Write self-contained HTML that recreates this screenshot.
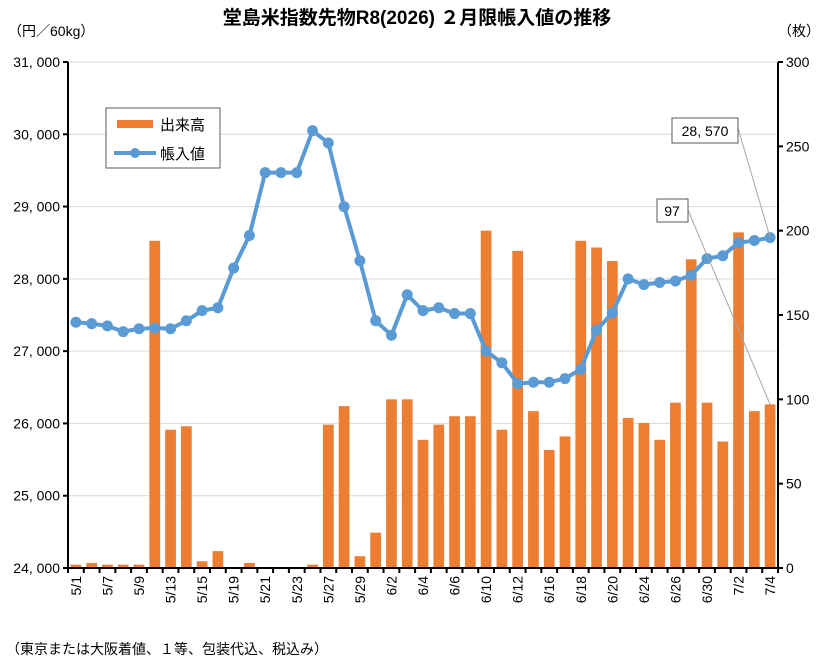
<!DOCTYPE html>
<html><head><meta charset="utf-8">
<style>
body{margin:0;background:#fff;}
svg{display:block;font-family:"Liberation Sans","Noto Sans CJK JP",sans-serif;}
</style></head>
<body>
<svg id="chart" width="835" height="665" viewBox="0 0 835 665" xmlns="http://www.w3.org/2000/svg">
<text x="417" y="24" text-anchor="middle" font-size="19" font-weight="bold">堂島米指数先物R8(2026) ２月限帳入値の推移</text>
<text x="8" y="36" font-size="14">（円／60kg）</text>
<text x="778" y="36" font-size="14">（枚）</text>
<text x="6" y="654" font-size="14">（東京または大阪着値、１等、包装代込、税込み）</text>
<g id="grid"></g><g id="bars"></g><g id="line"></g><g id="axes"></g>
<g>
<rect x="106" y="108" width="114" height="60" fill="#fff" stroke="#595959" stroke-width="1"/>
<rect x="117" y="120" width="36" height="8" fill="#ED7D31"/>
<text x="160" y="130" font-size="15">出来高</text>
<line x1="114" y1="153" x2="156" y2="153" stroke="#5B9BD5" stroke-width="4"/>
<circle cx="135" cy="153" r="5" fill="#5B9BD5"/>
<text x="160" y="159" font-size="15">帳入値</text>
</g>
<g id="ann"></g>
</svg>
<script>
const categories=["5/1","5/2","5/7","5/8","5/9","5/12","5/13","5/14","5/15","5/16","5/19","5/20","5/21","5/22","5/23","5/26","5/27","5/28","5/29","5/30","6/2","6/3","6/4","6/5","6/6","6/9","6/10","6/11","6/12","6/13","6/16","6/17","6/18","6/19","6/20","6/23","6/24","6/25","6/26","6/27","6/30","7/1","7/2","7/3","7/4"];
const volume=[2,3,2,2,2,194,82,84,4,10,0,3,0,0,0,2,85,96,7,21,100,100,76,85,90,90,200,82,188,93,70,78,194,190,182,89,86,76,98,183,98,75,199,93,97];
const price=[27400,27380,27350,27270,27310,27320,27310,27420,27560,27600,28150,28600,29470,29470,29470,30050,29880,29000,28250,27420,27220,27780,27560,27600,27520,27520,27000,26840,26550,26570,26570,26620,26750,27290,27530,28000,27920,27950,27970,28050,28280,28320,28500,28530,28570];
const leftTicks=[24000,25000,26000,27000,28000,29000,30000,31000];
const rightTicks=[0,50,100,150,200,250,300];
const NS="http://www.w3.org/2000/svg";
const X0=68,X1=778,Y0=568,Y1=62;
const n=categories.length,bw=(X1-X0)/n;
const xc=i=>X0+bw*(i+0.5);
const yL=v=>Y0-(v-24000)/7000*(Y0-Y1);
const yR=v=>Y0-v/300*(Y0-Y1);
function mk(tag,attrs,parent,txt){const e=document.createElementNS(NS,tag);for(const k in attrs)e.setAttribute(k,attrs[k]);if(txt!==undefined)e.textContent=txt;document.getElementById(parent).appendChild(e);return e;}
leftTicks.forEach(t=>{
 if(t>24000){const g=mk('line',{x1:X0,x2:X1,y1:yL(t),y2:yL(t),stroke:'#d9d9d9','stroke-width':1},'grid');
 
 }
 const l=mk('text',{x:X0-8,y:yL(t)+5,'text-anchor':'end','font-size':14},'axes',t.toLocaleString('en-US').replace(',',', '));
 
 
 mk('line',{x1:X0-5,x2:X0,y1:yL(t),y2:yL(t),stroke:'#000','stroke-width':2},'axes');
});
rightTicks.forEach(t=>{
 const l=mk('text',{x:X1+8,y:yR(t)+5,'font-size':14},'axes',t);
 
 
 mk('line',{x1:X1,x2:X1+5,y1:yR(t),y2:yR(t),stroke:'#000','stroke-width':2},'axes');
});
volume.forEach((v,i)=>{
 const h=Y0-yR(v);
 const b=mk('rect',{x:xc(i)-bw*0.34,y:yR(v),width:bw*0.68,height:h,fill:'#ED7D31'},'bars');
 
 
});
const pl=mk('polyline',{points:price.map((v,i)=>xc(i)+','+yL(v)).join(' '),fill:'none',stroke:'#5B9BD5','stroke-width':4,'stroke-linejoin':'round'},'line');


price.forEach((v,i)=>{
 const c=mk('circle',{cx:xc(i),cy:yL(v),r:5.5,fill:'#5B9BD5'},'line');
 
 
});
mk('line',{x1:X0,x2:X0,y1:Y1,y2:Y0,stroke:'#000','stroke-width':2},'axes');
mk('line',{x1:X1,x2:X1,y1:Y1,y2:Y0,stroke:'#000','stroke-width':2},'axes');
mk('line',{x1:X0,x2:X1,y1:Y0,y2:Y0,stroke:'#000','stroke-width':2},'axes');
for(let i=0;i<=n;i++)mk('line',{x1:X0+bw*i,x2:X0+bw*i,y1:Y0,y2:Y0+5,stroke:'#000','stroke-width':2},'axes');
categories.forEach((c,i)=>{
 if(i%2)return;
 const x=xc(i)+5,y=Y0+8;
 const t=mk('text',{x:x,y:y,'text-anchor':'end','font-size':14,transform:`rotate(-90 ${x} ${y})`},'axes',c);
 
 
});
const li=n-1;
mk('line',{x1:738,y1:128,x2:xc(li),y2:yL(price[li]),stroke:'#a6a6a6','stroke-width':1},'ann');
const a1=mk('rect',{x:672,y:118,width:66,height:25,fill:'#fff',stroke:'#595959','stroke-width':1},'ann');


mk('text',{x:705,y:136,'text-anchor':'middle','font-size':14},'ann',price[li].toLocaleString('en-US').replace(',',', '));
mk('line',{x1:688,y1:210,x2:xc(li),y2:yR(volume[li]),stroke:'#a6a6a6','stroke-width':1},'ann');
const a2=mk('rect',{x:657,y:199,width:31,height:23,fill:'#fff',stroke:'#595959','stroke-width':1},'ann');


mk('text',{x:672,y:216,'text-anchor':'middle','font-size':14},'ann',volume[li]);
</script>
</body></html>
